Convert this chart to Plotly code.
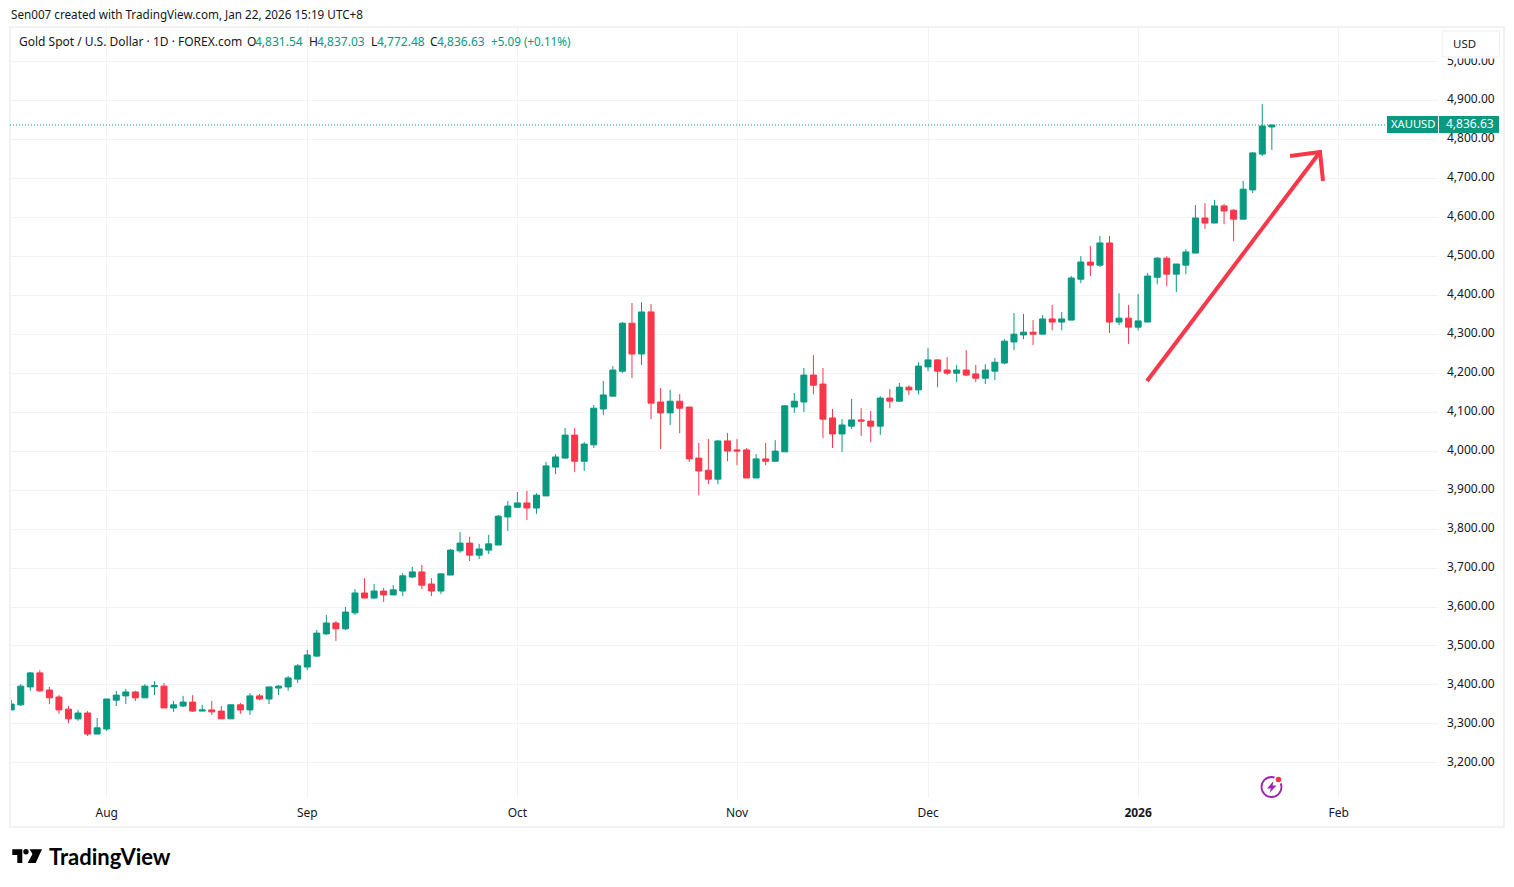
import plotly.graph_objects as go

opens = [3336,3349,3395,3431,3387,3369,3338,3313,3328,3274,
 3287,3361,3372,3382,3367,3396,3397,3341,3346,3356,3333,3336,3333,3313,3349,3336,3372,3364,3392,3395,3415,3446,3474,3531,3559,3544,3585,3636,3623,3641,3631,3641,3677,3690,3659,3641,3682,3744,3764,3733,3746,3759,3831,3856,
 3867,3854,3885,3959,3982,4041,3974,4016,4108,4141,4205,4328,4249,4357,4126,4098,4128,4113,3982,3951,3928,4026,4003,4003,3931,
 3980,3974,3998,4113,4126,4195,4172,4085,4044,4064,4080,4077,4064,4136,4128,4164,4157,4216,4234,4208,4200,4208,4198,4187,4205,
 4226,4280,4298,4305,4300,4339,4331,4336,4441,4485,4477,4534,4331,4341,4318,4331,4446,4495,4454,4477,4508,4598,4585,4629,4618,4595,4670,4762,4831.54]
highs = [3362,3402,3433,3438,3395,3374,3346,3336,3333,3315,
 3364,3385,3390,3385,3402,3410,3405,3359,3372,3374,3349,3359,3346,3351,3354,3379,3377,3395,3400,3423,3454,3490,3541,3580,3564,3600,3646,3674,3659,3649,3656,3687,3703,3708,3674,3685,3749,3792,3780,3762,3785,3836,3872,3895,
 3898,3892,3972,3992,4059,4059,4023,4118,4180,4218,4331,4380,4382,4377,4162,4157,4146,4113,4021,4031,4028,4046,4031,4008,3992,
 4021,4028,4118,4149,4213,4246,4213,4108,4082,4134,4110,4103,4141,4159,4175,4169,4228,4264,4236,4241,4221,4259,4221,4223,4239,
 4287,4354,4352,4336,4349,4375,4357,4449,4500,4526,4552,4552,4405,4375,4403,4457,4498,4500,4480,4518,4631,4636,4644,4634,4621,4693,4767,4890,4837.03]
lows = [3336,3346,3385,3382,3351,3326,3302,3308,3269,3274,
 3282,3346,3351,3359,3367,3374,3341,3331,3343,3331,3333,3323,3313,3313,3326,3323,3361,3351,3374,3385,3405,3438,3472,3528,3513,3541,3580,3623,3621,3613,3631,3628,3674,3646,3628,3633,3682,3739,3718,3723,3736,3759,3795,3854,
 3823,3839,3885,3941,3982,3946,3949,4008,4092,4141,4200,4187,4221,4082,4005,4067,4046,3972,3887,3915,3915,3974,3964,3931,3931,
 3964,3972,3998,4098,4100,4146,4033,4008,3998,4057,4039,4023,4041,4110,4128,4144,4146,4205,4164,4195,4177,4192,4177,4172,4182,
 4223,4259,4287,4272,4300,4310,4310,4336,4431,4449,4472,4303,4323,4275,4310,4331,4428,4423,4408,4454,4508,4570,4585,4582,4539,4595,4662,4757,4772.48]
closes = [3351,3397,3431,3385,3367,3336,3313,3328,3274,3290,
 3364,3374,3382,3367,3397,3398,3341,3349,3356,3333,3336,3331,3313,3349,3336,3372,3364,3395,3397,3418,3449,3477,3533,3559,3544,3587,3636,3623,3641,3631,3644,3680,3690,3656,3641,3685,3746,3764,3733,3749,3762,3833,3859,3867,
 3854,3887,3962,3985,4041,3974,4018,4110,4144,4208,4328,4249,4357,4123,4098,4128,4110,3980,3949,3928,4026,4000,4000,3931,3980,
 3974,4000,4116,4128,4195,4169,4082,4044,4067,4080,4077,4064,4136,4128,4164,4157,4218,4234,4205,4200,4208,4195,4187,4208,4228,
 4282,4300,4305,4300,4339,4331,4339,4444,4485,4477,4534,4331,4341,4318,4334,4449,4495,4454,4480,4511,4598,4585,4629,4616,4595,4672,4765,4834,4836.63]
first_bar = -10
bar_index = list(range(first_bar, first_bar + len(opens)))

month_bars = [0, 21, 43, 66, 86, 108, 129]
month_labels = ["Aug", "Sep", "Oct", "Nov", "Dec", "<b>2026</b>", "Feb"]
price_ticks = list(range(3200, 5001, 100))
price_labels = [f"{p:,.2f}" for p in price_ticks]
last_price = 4836.63

GREEN = "#089981"
RED = "#F7374A"
INK = "#131722"
GRID = "#F3F3F5"
FRAME = "#F1F2F4"
FONT = "Noto Sans"

# pane rectangle in pixels
L, R, T, B = 10, 1438, 27, 798
def px(x): return (x - L) / (R - L)
def py(y): return (B - y) / (B - T)
def pth(cmds):
    out = []
    for c in cmds:
        if len(c) == 1:
            out.append(c[0])
        else:
            out.append(f"{c[0]} {px(c[1]):.6f} {py(c[2]):.6f}")
    return " ".join(out)

fig = go.Figure(go.Candlestick(
    x=bar_index, open=opens, high=highs, low=lows, close=closes,
    whiskerwidth=0,
    increasing=dict(line=dict(color=GREEN, width=1), fillcolor=GREEN),
    decreasing=dict(line=dict(color=RED, width=1), fillcolor=RED),
    showlegend=False, hoverinfo="skip",
))

shapes = []
def rect(x0, y0, x1, y1, fill="rgba(0,0,0,0)", line=FRAME, w=2):
    shapes.append(dict(type="rect", xref="paper", yref="paper", x0=px(x0), x1=px(x1),
                       y0=py(y0), y1=py(y1), fillcolor=fill, line=dict(color=line, width=w), layer="above"))
def path(cmds, fill=None, line=None, w=0):
    d = dict(type="path", xref="paper", yref="paper", path=pth(cmds), layer="above",
             line=dict(color=line or "rgba(0,0,0,0)", width=w))
    if fill:
        d["fillcolor"] = fill
    shapes.append(d)
def circle(cx, cy, r, fill="rgba(0,0,0,0)", line="rgba(0,0,0,0)", w=0):
    shapes.append(dict(type="circle", xref="paper", yref="paper", x0=px(cx-r), x1=px(cx+r),
                       y0=py(cy+r), y1=py(cy-r), fillcolor=fill, line=dict(color=line, width=w), layer="above"))

rect(10, 27, 1504, 827)
# last price line
shapes.append(dict(type="line", xref="paper", yref="y", x0=0, x1=px(1387), y0=last_price, y1=last_price,
                   line=dict(color=GREEN, width=1, dash="1px,2px"), layer="above"))
# USD box and the white strip it casts over the top label
rect(1442, 31, 1500, 58.5, fill="white", line="white", w=0)
rect(1442, 31, 1499.5, 57, fill="white", line="#EDEEF1", w=1)
# price tags
rect(1387, 116, 1438, 133, fill=GREEN, line=GREEN, w=0)
rect(1439, 116, 1499, 133, fill=GREEN, line=GREEN, w=0)
# arrow
path([("M", 1147, 381), ("L", 1320, 152)], line=RED, w=4)
path([("M", 1290, 156), ("L", 1320, 152), ("L", 1323, 181)], line=RED, w=4)
# TradingView mark
path([("M", 12.3, 849.3), ("L", 22.3, 849.3), ("L", 22.3, 863), ("L", 17.3, 863), ("L", 17.3, 855), ("L", 12.3, 855), ("Z",)], fill="#000000")
circle(26, 851.8, 2.7, fill="#000000")
path([("M", 29.5, 849.3), ("L", 42, 849.3), ("L", 35.7, 863), ("L", 27.7, 863), ("L", 32.5, 854), ("Z",)], fill="#000000")
# lightning badge
circle(1271.5, 787, 10, line="#9C27B0", w=1.8)
circle(1278.5, 779.5, 4.5, fill="white")
circle(1278.5, 779.5, 2.8, fill="#F23645")
path([("M", 1273.5, 781), ("L", 1267, 788.5), ("L", 1271, 788.5), ("L", 1269.5, 793), ("L", 1276.5, 785.5), ("L", 1272.5, 785.5), ("Z",)], fill="#9C27B0")

anns = []
def text(x, y, s, color=INK, size=12, family=FONT, anchor="left"):
    anns.append(dict(xref="paper", yref="paper", x=px(x), y=py(y), text=s, showarrow=False,
                     xanchor=anchor, yanchor="middle", borderpad=0, font=dict(family=family, size=size, color=color)))

text(10, 14, "Sen007 created with TradingView.com, Jan 22, 2026 15:19 UTC+8", size=11.7)
text(17.5, 41, "Gold Spot / U.S. Dollar · 1D · FOREX.com")
for x, s, c in [(246, "O", INK), (254, "4,831.54", GREEN), (308, "H", INK), (316, "4,837.03", GREEN),
                (370, "L", INK), (376, "4,772.48", GREEN), (429, "C", INK), (436, "4,836.63", GREEN)]:
    text(x, 41, s, color=c)
text(490, 41, "+5.09 (+0.11%)", color=GREEN, size=11.7)
text(1451.5, 43.5, "USD", size=11.5)
text(1413, 123.5, "XAUUSD", color="white", size=11.2, anchor="center")
text(1469.5, 123.5, "4,836.63", color="white", anchor="center")
text(48, 856, "<b>TradingView</b>", color="#000000", size=22, family="Lato")

fig.update_layout(
    width=1514, height=887,
    margin=dict(l=L, r=1514 - R, t=T, b=887 - B, pad=0),
    paper_bgcolor="white", plot_bgcolor="white",
    boxgap=0.37, boxgroupgap=0, showlegend=False,
    shapes=shapes, annotations=anns,
    font=dict(family=FONT, size=12, color=INK),
    xaxis=dict(range=[-10.125, 139.4], rangeslider=dict(visible=False), tickmode="array",
               tickvals=month_bars, ticktext=month_labels, showgrid=True, gridcolor=GRID, gridwidth=1,
               zeroline=False, showline=False, ticks="", ticklabelstandoff=6,
               tickfont=dict(family=FONT, size=12, color=INK)),
    yaxis=dict(range=[3110, 5088], side="right", tickmode="array", tickvals=price_ticks, ticktext=price_labels,
               showgrid=True, gridcolor=GRID, gridwidth=1, zeroline=False, showline=False, ticks="",
               ticklabelstandoff=8, ticklabelshift=-1, tickfont=dict(family=FONT, size=12, color=INK)),
)
fig.write_html("out.html", config=dict(displayModeBar=False),
               post_script="document.body.style.margin='0';document.documentElement.style.overflow='hidden';")
